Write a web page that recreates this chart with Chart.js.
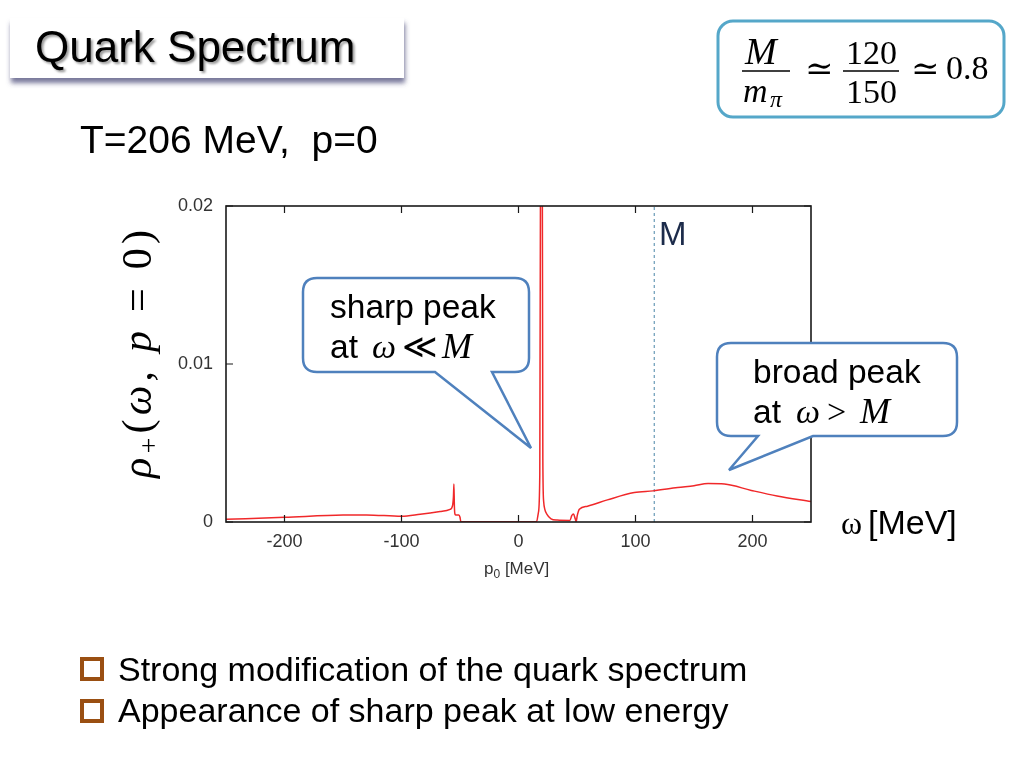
<!DOCTYPE html>
<html>
<head>
<meta charset="utf-8">
<script src="https://cdn.jsdelivr.net/npm/chart.js@4.4.0/dist/chart.umd.min.js"></script>
<style>
  html, body { margin: 0; padding: 0; background: #fff; }
  #stage { position: relative; width: 1024px; height: 768px; overflow: hidden; }
  #chart { position: absolute; left: 0; top: 0; }
  #overlay { position: absolute; left: 0; top: 0; }
  .serif { font-family: 'Liberation Serif', 'DejaVu Serif', serif; }
</style>
</head>
<body>
<div id="stage">
  <canvas id="chart" width="1024" height="768"></canvas>
  <svg id="overlay" width="1024" height="768" font-family="'Liberation Sans', Arial, sans-serif">
    <defs>
      <filter id="boxShadow" x="-5%" y="-30%" width="115%" height="180%">
        <feDropShadow dx="1" dy="5" stdDeviation="2.5" flood-color="#4a4a78" flood-opacity="0.75"/>
      </filter>
      <filter id="txtShadow"><feGaussianBlur stdDeviation="0.8"/></filter>
    </defs>

    <!-- slide title -->
    <rect x="10" y="18" width="394" height="60" fill="#fff" filter="url(#boxShadow)"/>
    <text x="37" y="64" font-size="44" fill="#999" filter="url(#txtShadow)">Quark Spectrum</text>
    <text x="35" y="62" font-size="44" fill="#000">Quark Spectrum</text>

    <text x="80" y="153" font-size="39" fill="#000" style="white-space:pre">T=206 MeV,  p=0</text>

    <!-- M / m_pi box -->
    <rect x="718" y="21" width="286" height="96" rx="15" fill="#fff" stroke="#55a7c9" stroke-width="3"/>
    <g class="serif" font-size="34" fill="#000">
      <text x="745" y="64" font-size="38" font-style="italic">M</text>
      <line x1="742" y1="71" x2="790" y2="71" stroke="#000" stroke-width="1.6"/>
      <text x="743" y="102" font-style="italic">m</text>
      <text x="770" y="107" font-size="24" font-style="italic">π</text>
      <text x="805" y="80">≃</text>
      <text x="846" y="64">120</text>
      <line x1="843" y1="71" x2="899" y2="71" stroke="#000" stroke-width="1.6"/>
      <text x="846" y="103">150</text>
      <text x="911" y="80">≃</text>
      <text x="946" y="79">0.8</text>
    </g>

    <!-- y axis label -->
    <text class="serif" transform="translate(151,478) rotate(-90)" font-size="42" fill="#000" textLength="248" lengthAdjust="spacing"><tspan font-style="italic">ρ</tspan><tspan font-size="28" dy="7">+</tspan><tspan dy="-7">(</tspan><tspan font-style="italic">ω</tspan>, <tspan font-style="italic">p</tspan> = 0)</text>

    <!-- x axis title -->
    <text x="484" y="574" font-size="17" fill="#333">p<tspan font-size="12" dy="4">0</tspan><tspan dy="-4"> [MeV]</tspan></text>

    <!-- callouts -->
    <path d="M 317 278 H 515 Q 529 278 529 292 V 358 Q 529 372 515 372 H 492 L 531 448 L 435 372 H 317 Q 303 372 303 358 V 292 Q 303 278 317 278 Z"
          fill="#fff" stroke="#4f81bd" stroke-width="2.5"/>
    <text x="330" y="318" font-size="33.5" fill="#000">sharp peak</text>
    <text x="330" y="358" font-size="33.5" fill="#000">at</text>
    <g class="serif" font-size="34" fill="#000">
      <text x="372" y="358" font-style="italic">ω</text>
      <text x="402" y="358">≪</text>
      <text x="442" y="358" font-size="36" font-style="italic">M</text>
    </g>

    <path d="M 731 343 H 943 Q 957 343 957 357 V 422 Q 957 436 943 436 H 813 L 729 470 L 758 436 H 731 Q 717 436 717 422 V 357 Q 717 343 731 343 Z"
          fill="#fff" stroke="#4f81bd" stroke-width="2.5"/>
    <text x="753" y="383" font-size="33.5" fill="#000">broad peak</text>
    <text x="753" y="423" font-size="33.5" fill="#000">at</text>
    <g class="serif" font-size="34" fill="#000">
      <text x="796" y="423" font-style="italic">ω</text>
      <text x="827" y="423">&gt;</text>
      <text x="860" y="423" font-size="36" font-style="italic">M</text>
    </g>

    <!-- M marker label and omega unit -->
    <text x="659" y="245" font-size="33" fill="#1c2b4a">M</text>
    <text class="serif" x="841" y="534" font-size="32" fill="#000">ω</text>
    <text x="868" y="534" font-size="34" fill="#000">[MeV]</text>

    <!-- bullets -->
    <rect x="82" y="659" width="20" height="20" fill="none" stroke="#9a4f12" stroke-width="4"/>
    <text x="118" y="681" font-size="34" fill="#000">Strong modification of the quark spectrum</text>
    <rect x="82" y="701" width="20" height="20" fill="none" stroke="#9a4f12" stroke-width="4"/>
    <text x="118" y="722" font-size="34" fill="#000">Appearance of sharp peak at low energy</text>
  </svg>
</div>

<script>
// rho_+(omega, p=0) at T = 206 MeV
const omega = [-250, -200, -150, -130, -100, -84, -67, -58.5, -56.5, -55.6,
  -55.2, -54.8, -54.3, -53.5, -51, -50, -49.3, -40, 0, 15.5,
  17, 18.2, 19.0, 19.6, 20.2, 20.8, 21.5, 22.5, 24.2, 27.8,
  33, 44, 45.5, 47, 48.5, 49.3, 50.2, 52, 59, 76,
  99, 115, 136, 150, 162, 176, 199, 221, 250];
const rho = [0.00017, 0.0003, 0.00044, 0.00045, 0.00036, 0.00049, 0.00066, 0.0008, 0.001, 0.0016,
  0.0024, 0.001, 0.0005, 0.00045, 0.00045, 0.0003, 0.00003, 0.00002, 0.00002, 0.00003,
  0.0006, 0.003, 0.03, 0.06, 0.03, 0.004, 0.0013, 0.0008, 0.0005, 0.0002,
  0.00012, 0.0001, 0.0004, 0.0005, 0.0002, 0.00003, 0.0004, 0.0008, 0.001, 0.0014,
  0.00186, 0.00197, 0.00218, 0.0023, 0.00243, 0.0024, 0.002, 0.00165, 0.0013];

// quark mass M (MeV), dashed marker
const massM = 116;

const xTicks = [-200, -100, 0, 100, 200];
const xTickLabels = ['-200', '-100', '0', '100', '200'];
const yTicks = [0, 0.01, 0.02];
const yTickLabels = ['0', '0.01', '0.02'];

// frame with inward tick marks, gnuplot style
const framePlugin = {
  id: 'frame',
  afterDatasetsDraw(chart) {
    const { ctx, chartArea: a, scales: { x, y } } = chart;
    ctx.save();
    ctx.strokeStyle = '#1a1a1a';
    ctx.lineWidth = 1.2;
    ctx.beginPath();
    x.ticks.forEach(t => {
      const px = x.getPixelForValue(t.value);
      ctx.moveTo(px, a.bottom); ctx.lineTo(px, a.bottom - 7);
      ctx.moveTo(px, a.top); ctx.lineTo(px, a.top + 7);
    });
    y.ticks.forEach(t => {
      const py = y.getPixelForValue(t.value);
      ctx.moveTo(a.left, py); ctx.lineTo(a.left + 7, py);
      ctx.moveTo(a.right, py); ctx.lineTo(a.right - 7, py);
    });
    ctx.stroke();
    ctx.lineWidth = 1.6;
    ctx.strokeRect(a.left, a.top, a.right - a.left, a.bottom - a.top);
    ctx.restore();
  }
};

Chart.defaults.font.family = "'Liberation Sans', Arial, sans-serif";

new Chart(document.getElementById('chart').getContext('2d'), {
  type: 'line',
  data: {
    datasets: [
      {
        data: omega.map((w, i) => ({ x: w, y: rho[i] })),
        borderColor: '#f0282a',
        borderWidth: 1.5,
        pointRadius: 0,
        cubicInterpolationMode: 'monotone',
        fill: false
      },
      {
        data: [{ x: massM, y: 0 }, { x: massM, y: 0.02 }],
        borderColor: '#4a86a8',
        borderWidth: 1,
        borderDash: [3, 3],
        pointRadius: 0,
        fill: false
      }
    ]
  },
  options: {
    responsive: false,
    animation: false,
    devicePixelRatio: 1,
    layout: { padding: { left: 146, right: 213, top: 206, bottom: 186 } },
    plugins: {
      legend: { display: false },
      tooltip: { enabled: false }
    },
    scales: {
      x: {
        type: 'linear',
        min: -250,
        max: 250,
        afterBuildTicks: s => { s.ticks = xTicks.map(v => ({ value: v })); },
        ticks: {
          padding: 1,
          color: '#333',
          font: { size: 18 },
          maxRotation: 0,
          autoSkip: false,
          callback: v => xTickLabels[xTicks.indexOf(v)]
        },
        grid: { display: false },
        border: { display: false },
        afterFit: s => { s.height = 60; }
      },
      y: {
        type: 'linear',
        min: 0,
        max: 0.02,
        afterBuildTicks: s => { s.ticks = yTicks.map(v => ({ value: v })); },
        ticks: {
          padding: 5,
          color: '#333',
          font: { size: 18 },
          callback: v => yTickLabels[yTicks.indexOf(v)]
        },
        grid: { display: false },
        border: { display: false },
        afterFit: s => { s.width = 80; }
      }
    }
  },
  plugins: [framePlugin]
});
</script>
</body>
</html>
